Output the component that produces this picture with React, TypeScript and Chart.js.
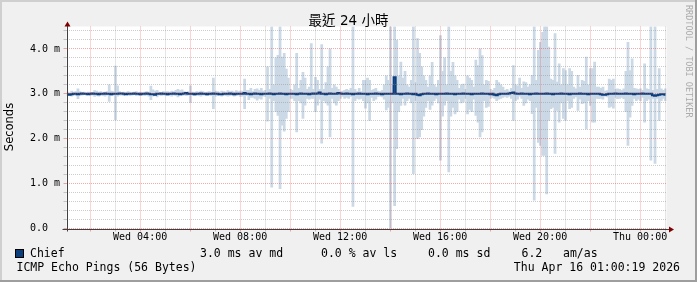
import React, { useEffect, useRef } from 'react';
import { Chart, registerables } from 'chart.js';

Chart.register(...registerables);

// ---- time frame (hours since Wed 00:00) ----
const X_MIN = 1.056;
const X_MAX = 25.056;
const STEP_HOURS = 1 / 12; // 5 minute steps

// ---- tick labels ----
const xTickHours = [4, 8, 12, 16, 20, 24];
const xTickLabels = ['Wed 04:00', 'Wed 08:00', 'Wed 12:00', 'Wed 16:00', 'Wed 20:00', 'Thu 00:00'];
const yTickLabels = ['0.0  ', '1.0 m', '2.0 m', '3.0 m', '4.0 m'];

// ---- texts ----
const titleText = '最近 24 小時';
const yAxisTitle = 'Seconds';
const seriesName = 'Chief';
const legendStats = ['3.0 ms av md', '0.0 % av ls', '0.0 ms sd', '6.2', 'am/as'];
const footerLeft = 'ICMP Echo Pings (56 Bytes)';
const footerRight = 'Thu Apr 16 01:00:19 2026';
const watermark = 'RRDTOOL / TOBI OETIKER';

// ---- data (ms), one value per 5 minute step ----
const smokeHigh = [
  3.04, 3.03, 3.06, 3.04, 3.05, 3.11, 3.05, 3.03, 3.04, 3.02, 3.04, 3.03,
  3.03, 3.07, 3.06, 3.04, 3.05, 3.03, 3.04, 3.05, 3.20, 3.06, 3.05, 3.62,
  3.18, 3.05, 3.03, 3.04, 3.03, 3.05, 3.04, 3.03, 3.04, 3.05, 3.03, 3.04,
  3.03, 3.04, 3.05, 3.04, 3.17, 3.09, 3.06, 3.08, 3.04, 3.03, 3.05, 3.04,
  3.05, 3.04, 3.06, 3.05, 3.08, 3.10, 3.07, 3.09, 3.05, 3.04, 3.05, 3.18,
  3.04, 3.03, 3.05, 3.04, 3.06, 3.05, 3.03, 3.04, 3.05, 3.04, 3.35, 3.06,
  3.05, 3.04, 3.06, 3.05, 3.04, 3.07, 3.05, 3.06, 3.04, 3.07, 3.05, 3.06,
  3.06, 3.33, 3.08, 3.08, 3.12, 3.05, 3.10, 3.11, 3.08, 3.12, 3.06, 3.08,
  3.60, 3.10, 4.50, 3.20, 3.80, 3.86, 4.50, 3.82, 3.90, 3.55, 3.35, 3.10,
  3.08, 3.20, 3.90, 3.12, 3.30, 3.48, 3.35, 3.10, 3.15, 4.12, 3.10, 3.37,
  3.30, 3.10, 4.10, 3.10, 3.25, 3.60, 4.00, 3.12, 3.20, 3.15, 3.10, 3.05,
  3.06, 3.08, 3.10, 3.08, 3.12, 4.50, 3.10, 3.05, 3.12, 3.05, 3.30, 3.30,
  3.35, 3.30, 3.08, 3.10, 3.12, 3.06, 3.05, 3.08, 3.20, 3.40, 3.30, 4.50,
  3.20, 4.50, 4.20, 3.40, 3.71, 3.35, 3.50, 3.20, 3.15, 3.30, 4.50, 3.25,
  4.23, 3.90, 3.60, 3.40, 3.30, 3.15, 3.40, 3.70, 3.20, 3.15, 3.30, 4.30,
  3.50, 3.80, 3.20, 4.50, 3.50, 3.70, 3.40, 3.30, 3.12, 3.20, 3.22, 3.10,
  3.40, 3.35, 3.30, 3.15, 3.75, 3.63, 4.00, 3.85, 3.20, 3.30, 3.28, 3.10,
  3.08, 3.12, 3.30, 3.25, 3.20, 3.15, 3.08, 3.10, 3.06, 3.12, 3.63, 3.20,
  3.18, 3.35, 3.12, 3.27, 3.25, 3.15, 3.20, 3.41, 4.50, 3.30, 3.97, 4.15,
  4.37, 4.50, 4.50, 4.04, 3.33, 3.30, 4.34, 3.26, 3.67, 3.20, 3.56, 3.52,
  3.20, 3.56, 3.50, 3.15, 3.11, 3.41, 3.15, 3.30, 3.28, 3.82, 3.20, 3.56,
  3.56, 3.71, 3.15, 3.15, 3.12, 3.15, 3.06, 3.07, 3.33, 3.30, 3.33, 3.10,
  3.11, 3.10, 3.08, 3.11, 3.50, 4.15, 3.52, 3.78, 3.12, 3.11, 3.10, 3.11,
  3.08, 3.67, 3.11, 3.10, 4.50, 3.08, 4.50, 3.10, 3.56, 3.11, 3.08, 3.11,
];

const smokeLow = [
  2.96, 2.97, 2.95, 2.97, 2.96, 2.89, 2.96, 2.97, 2.98, 2.97, 2.98, 2.97,
  2.97, 2.94, 2.96, 2.95, 2.97, 2.96, 2.95, 2.97, 2.83, 2.96, 2.97, 2.42,
  2.95, 2.97, 2.97, 2.96, 2.98, 2.97, 2.96, 2.97, 2.98, 2.96, 2.97, 2.96,
  2.97, 2.96, 2.97, 2.95, 2.87, 2.95, 2.96, 2.93, 2.97, 2.96, 2.97, 2.97,
  2.96, 2.97, 2.95, 2.97, 2.96, 2.93, 2.97, 2.96, 2.97, 2.96, 2.97, 2.81,
  2.97, 2.96, 2.97, 2.96, 2.95, 2.97, 2.97, 2.96, 2.97, 2.96, 2.67, 2.95,
  2.96, 2.97, 2.95, 2.97, 2.96, 2.95, 2.96, 2.97, 2.95, 2.96, 2.97, 2.94,
  2.95, 2.67, 2.96, 2.87, 2.92, 2.92, 2.90, 2.86, 2.90, 2.88, 2.95, 2.94,
  2.39, 2.90, 0.92, 2.85, 2.60, 2.52, 0.89, 2.30, 2.17, 2.45, 2.60, 2.90,
  2.90, 2.85, 2.15, 2.85, 2.80, 2.45, 2.75, 2.90, 2.88, 2.90, 2.90, 2.60,
  2.75, 2.88, 1.90, 2.85, 2.80, 2.75, 2.04, 2.90, 2.80, 2.75, 2.85, 2.90,
  2.94, 2.90, 2.92, 2.90, 2.94, 0.49, 2.85, 2.90, 2.88, 2.90, 2.85, 2.68,
  2.80, 2.41, 2.92, 2.85, 2.88, 2.94, 2.95, 2.93, 2.88, 2.64, 2.70, 0.00,
  2.80, 0.51, 1.78, 2.60, 2.74, 2.90, 2.75, 2.85, 2.90, 2.80, 1.22, 2.85,
  2.00, 2.04, 2.20, 2.50, 2.70, 2.85, 2.65, 2.75, 2.85, 2.90, 2.80, 1.52,
  2.50, 2.75, 2.85, 1.26, 2.50, 2.70, 2.55, 2.60, 2.88, 2.80, 2.82, 2.90,
  2.55, 2.65, 2.60, 2.88, 2.52, 2.37, 2.04, 2.15, 2.85, 2.70, 2.72, 2.90,
  2.92, 2.90, 2.85, 2.88, 2.90, 2.92, 2.94, 2.92, 2.95, 2.90, 2.41, 2.85,
  2.88, 2.95, 2.90, 2.74, 2.80, 2.88, 2.85, 2.56, 0.63, 2.70, 1.92, 1.85,
  1.63, 1.63, 0.77, 2.41, 2.67, 2.70, 1.67, 2.63, 2.37, 2.80, 2.45, 2.41,
  2.85, 2.67, 2.70, 2.90, 2.93, 2.63, 2.88, 2.78, 2.80, 2.22, 2.85, 2.74,
  2.37, 2.37, 2.90, 2.89, 2.90, 2.88, 2.95, 2.93, 2.70, 2.72, 2.68, 2.92,
  2.89, 2.90, 2.92, 2.89, 2.60, 1.85, 2.48, 2.74, 2.90, 2.85, 2.88, 2.85,
  2.92, 2.37, 2.85, 2.88, 1.52, 2.90, 1.45, 2.90, 2.41, 2.85, 2.90, 2.85,
];

const medianRtt = [
  2.99, 2.98, 2.99, 3.00, 3.00, 2.99, 3.00, 3.01, 3.00, 3.00, 2.99, 3.00,
  3.01, 3.00, 3.00, 2.99, 3.00, 3.00, 3.01, 3.00, 3.00, 2.99, 3.00, 3.00,
  3.00, 3.01, 3.01, 3.00, 2.99, 3.00, 3.00, 3.00, 3.01, 3.00, 3.00, 2.99,
  3.00, 3.00, 3.01, 3.00, 2.99, 2.99, 2.98, 3.00, 3.00, 3.01, 3.00, 3.00,
  2.99, 3.00, 3.00, 3.01, 3.00, 3.00, 2.99, 3.00, 3.01, 3.02, 3.00, 3.00,
  3.00, 2.99, 3.00, 3.00, 3.01, 3.00, 3.00, 2.99, 3.00, 3.00, 3.01, 3.00,
  3.00, 2.99, 2.99, 3.00, 3.00, 3.00, 3.01, 3.00, 2.99, 3.00, 3.00, 3.00,
  3.00, 3.02, 3.00, 3.00, 2.99, 3.00, 3.01, 3.00, 3.00, 2.99, 3.00, 3.00,
  3.00, 3.01, 3.00, 2.99, 3.00, 3.00, 3.01, 3.00, 3.00, 2.99, 3.00, 3.00,
  3.00, 3.00, 2.99, 3.00, 3.01, 3.00, 3.00, 3.00, 2.99, 3.00, 3.01, 3.00,
  3.01, 3.03, 3.00, 3.00, 2.99, 3.00, 3.01, 3.00, 3.00, 3.00, 3.02, 3.01,
  3.00, 3.00, 3.01, 3.00, 3.00, 2.99, 3.00, 3.00, 3.01, 3.00, 3.00, 3.00,
  2.99, 3.00, 3.00, 3.00, 3.01, 3.00, 3.00, 2.99, 3.00, 3.00, 3.00, 3.00,
  3.00, 3.37, 3.00, 3.00, 2.99, 3.00, 3.00, 3.01, 3.00, 3.00, 2.99, 3.00,
  2.98, 2.97, 2.99, 3.00, 3.00, 3.01, 3.00, 3.00, 3.00, 2.99, 3.00, 3.00,
  3.00, 3.00, 3.01, 3.00, 3.00, 3.00, 2.99, 3.00, 3.00, 3.00, 3.01, 3.00,
  3.00, 3.00, 2.99, 3.00, 3.00, 3.00, 3.00, 3.01, 3.00, 3.00, 3.00, 2.99,
  3.00, 2.98, 2.97, 2.99, 3.00, 3.00, 3.00, 3.00, 3.01, 3.02, 3.03, 3.01,
  3.00, 3.00, 3.01, 3.00, 3.00, 3.00, 2.99, 3.00, 3.00, 3.01, 3.00, 3.00,
  3.00, 3.00, 3.01, 3.00, 3.00, 2.99, 3.00, 3.00, 3.00, 3.01, 3.00, 3.00,
  3.00, 2.99, 3.00, 3.00, 3.00, 3.00, 3.01, 3.00, 3.00, 3.00, 2.99, 3.00,
  3.00, 3.00, 3.00, 3.00, 2.99, 2.98, 2.98, 2.99, 3.00, 3.00, 3.00, 3.01,
  3.00, 3.00, 3.00, 3.00, 3.01, 3.00, 3.00, 3.00, 2.99, 3.00, 3.00, 3.00,
  3.01, 3.00, 3.00, 3.00, 3.00, 2.97, 2.96, 2.97, 2.98, 2.99, 2.99, 2.98,
];

// ---- colours ----
const BACK = '#f0f0f0';
const CANVAS_BG = '#ffffff';
const SHADE_A = '#cfcfcf';
const SHADE_B = '#9e9e9e';
const GRID = 'rgba(143,143,143,0.45)';
const MGRID = 'rgba(225,55,55,0.42)';
const AXIS = '#404040';
const ARROW = '#7f0000';
const SMOKE = '#cbd8e5';
const MEDIAN = '#0b3e7d';
const FONT_COLOR = '#000000';

const MONO = '"DejaVu Sans Mono", monospace';

const rrdPlugin = {
  id: 'rrdDecor',
  beforeDraw(chart: any) {
    const { ctx, chartArea: a, width, height } = chart;
    ctx.save();
    ctx.fillStyle = BACK;
    ctx.fillRect(0, 0, width, height);
    ctx.fillStyle = CANVAS_BG;
    ctx.fillRect(a.left, a.top, a.right - a.left, a.bottom - a.top);
    // frame
    ctx.fillStyle = SHADE_A;
    ctx.fillRect(0, 0, width, 2);
    ctx.fillRect(0, 0, 2, height);
    ctx.fillStyle = SHADE_B;
    ctx.fillRect(0, height - 2, width, 2);
    ctx.fillRect(width - 2, 0, 2, height);
    ctx.restore();
  },
  afterDraw(chart: any) {
    const { ctx, chartArea: a } = chart;
    const x0 = Math.round(a.left) + 0.5;
    const yb = Math.round(a.bottom) + 0.5;
    ctx.save();
    // axes
    ctx.strokeStyle = AXIS;
    ctx.lineWidth = 1;
    ctx.beginPath();
    ctx.moveTo(a.left - 4, yb);
    ctx.lineTo(a.right + 3, yb);
    ctx.moveTo(x0, a.bottom + 3);
    ctx.lineTo(x0, a.top - 2);
    ctx.stroke();
    // arrows
    ctx.fillStyle = ARROW;
    ctx.beginPath();
    ctx.moveTo(a.right + 2.5, yb - 3);
    ctx.lineTo(a.right + 7.5, yb);
    ctx.lineTo(a.right + 2.5, yb + 3);
    ctx.closePath();
    ctx.fill();
    ctx.beginPath();
    ctx.moveTo(x0 - 3, a.top);
    ctx.lineTo(x0, a.top - 5);
    ctx.lineTo(x0 + 3, a.top);
    ctx.closePath();
    ctx.fill();

    // title
    ctx.fillStyle = FONT_COLOR;
    ctx.textBaseline = 'middle';
    ctx.textAlign = 'center';
    ctx.font = '13.5px "DejaVu Sans", "Noto Sans CJK TC", sans-serif';
    ctx.fillText(titleText, 348.5, 21);

    // y axis title
    ctx.save();
    ctx.translate(10.5, 127);
    ctx.rotate(-Math.PI / 2);
    ctx.font = '11.5px "DejaVu Sans", sans-serif';
    ctx.textAlign = 'center';
    ctx.fillText(yAxisTitle, 0, 0);
    ctx.restore();

    // watermark
    ctx.save();
    ctx.translate(688, 5);
    ctx.rotate(Math.PI / 2);
    ctx.font = '8.5px ' + MONO;
    ctx.fillStyle = '#ababab';
    ctx.textAlign = 'left';
    ctx.textBaseline = 'middle';
    ctx.fillText(watermark, 0, 0);
    ctx.restore();

    // legend
    ctx.fillStyle = MEDIAN;
    ctx.fillRect(15, 249, 9, 9);
    ctx.strokeStyle = '#000';
    ctx.lineWidth = 1;
    ctx.strokeRect(15.5, 249.5, 8, 8);
    ctx.fillStyle = FONT_COLOR;
    ctx.font = '11.5px ' + MONO;
    ctx.textAlign = 'left';
    ctx.textBaseline = 'middle';
    ctx.fillText(seriesName, 30, 254);
    const statX = [200, 321, 428, 521.5, 563];
    legendStats.forEach((s, i) => ctx.fillText(s, statX[i], 254));
    ctx.fillText(footerLeft, 16.5, 268.5);
    ctx.textAlign = 'right';
    ctx.fillText(footerRight, 680, 268.5);
    ctx.restore();
  },
};

export default function App() {
  const ref = useRef<HTMLCanvasElement | null>(null);

  useEffect(() => {
    document.body.style.margin = '0';
    const canvas = ref.current;
    if (!canvas) return;

    const sampleTimes = smokeHigh.map((_, i) => X_MIN + (i + 0.5) * STEP_HOURS);
    const smokePts = sampleTimes.map((t, i) => ({ x: t, y: [smokeLow[i], smokeHigh[i]] }));
    const medianPts = sampleTimes.map((t, i) => ({ x: t, y: medianRtt[i] }));

    const gridHours: number[] = [];
    for (let h = Math.ceil(X_MIN); h <= X_MAX; h++) gridHours.push(h);
    const yGrid: number[] = [];
    for (let k = 0; k <= 22; k++) yGrid.push(k / 5);

    const isInt = (v: number) => Math.abs(v - Math.round(v)) < 1e-6;

    const chart = new Chart(canvas, {
      type: 'bar',
      data: {
        datasets: [
          {
            type: 'line',
            label: seriesName,
            data: medianPts as any,
            borderColor: MEDIAN,
            borderWidth: 2,
            pointRadius: 0,
            stepped: 'middle',
            fill: false,
            order: 0,
          } as any,
          {
            type: 'bar',
            label: 'smoke',
            data: smokePts as any,
            backgroundColor: SMOKE,
            borderWidth: 0,
            barPercentage: 1,
            categoryPercentage: 1,
            order: 1,
          } as any,
        ],
      },
      options: {
        animation: false,
        responsive: false,
        maintainAspectRatio: false,
        devicePixelRatio: 1,
        events: [],
        layout: { padding: { left: 0, right: 30.5, top: 26.5, bottom: 33.5 } },
        plugins: {
          legend: { display: false },
          tooltip: { enabled: false },
          title: { display: false },
        },
        scales: {
          x: {
            type: 'linear',
            min: X_MIN,
            max: X_MAX,
            offset: false,
            afterBuildTicks: (s: any) => {
              s.ticks = gridHours.map((v) => ({ value: v }));
            },
            afterFit: (s: any) => {
              s.height = 20;
            },
            grid: {
              offset: false,
              z: 1,
              color: (c: any) => (c.tick && c.tick.value % 2 === 0 ? MGRID : GRID),
              tickColor: (c: any) => (c.tick && c.tick.value % 2 === 0 ? MGRID : GRID),
              tickLength: 3,
              lineWidth: 1,
            },
            border: { display: false, dash: [1, 1] },
            ticks: {
              autoSkip: false,
              maxRotation: 0,
              minRotation: 0,
              padding: 0,
              color: FONT_COLOR,
              font: { family: 'DejaVu Sans Mono', size: 10 },
              callback: (v: any) => {
                const k = xTickHours.indexOf(Number(v));
                return k >= 0 ? xTickLabels[k] : '';
              },
            },
          },
          y: {
            type: 'linear',
            min: 0,
            max: 4.5,
            afterBuildTicks: (s: any) => {
              s.ticks = yGrid.map((v) => ({ value: v }));
            },
            afterFit: (s: any) => {
              s.width = 66.5;
            },
            grid: {
              z: 1,
              color: (c: any) => (c.tick && isInt(c.tick.value) ? MGRID : GRID),
              tickColor: (c: any) => (c.tick && isInt(c.tick.value) ? MGRID : GRID),
              tickLength: 3,
              lineWidth: 1,
            },
            border: { display: false, dash: [1, 1] },
            ticks: {
              autoSkip: false,
              padding: 3.5,
              color: FONT_COLOR,
              font: { family: 'DejaVu Sans Mono', size: 10 },
              callback: (v: any) => {
                const n = Number(v);
                return isInt(n) ? yTickLabels[Math.round(n)] : '';
              },
            },
          },
        },
      } as any,
      plugins: [rrdPlugin],
    });

    return () => chart.destroy();
  }, []);

  return (
    <div style={{ width: 697, height: 282, position: 'relative' }}>
      <canvas ref={ref} width={697} height={282} style={{ width: 697, height: 282, display: 'block' }} />
    </div>
  );
}
